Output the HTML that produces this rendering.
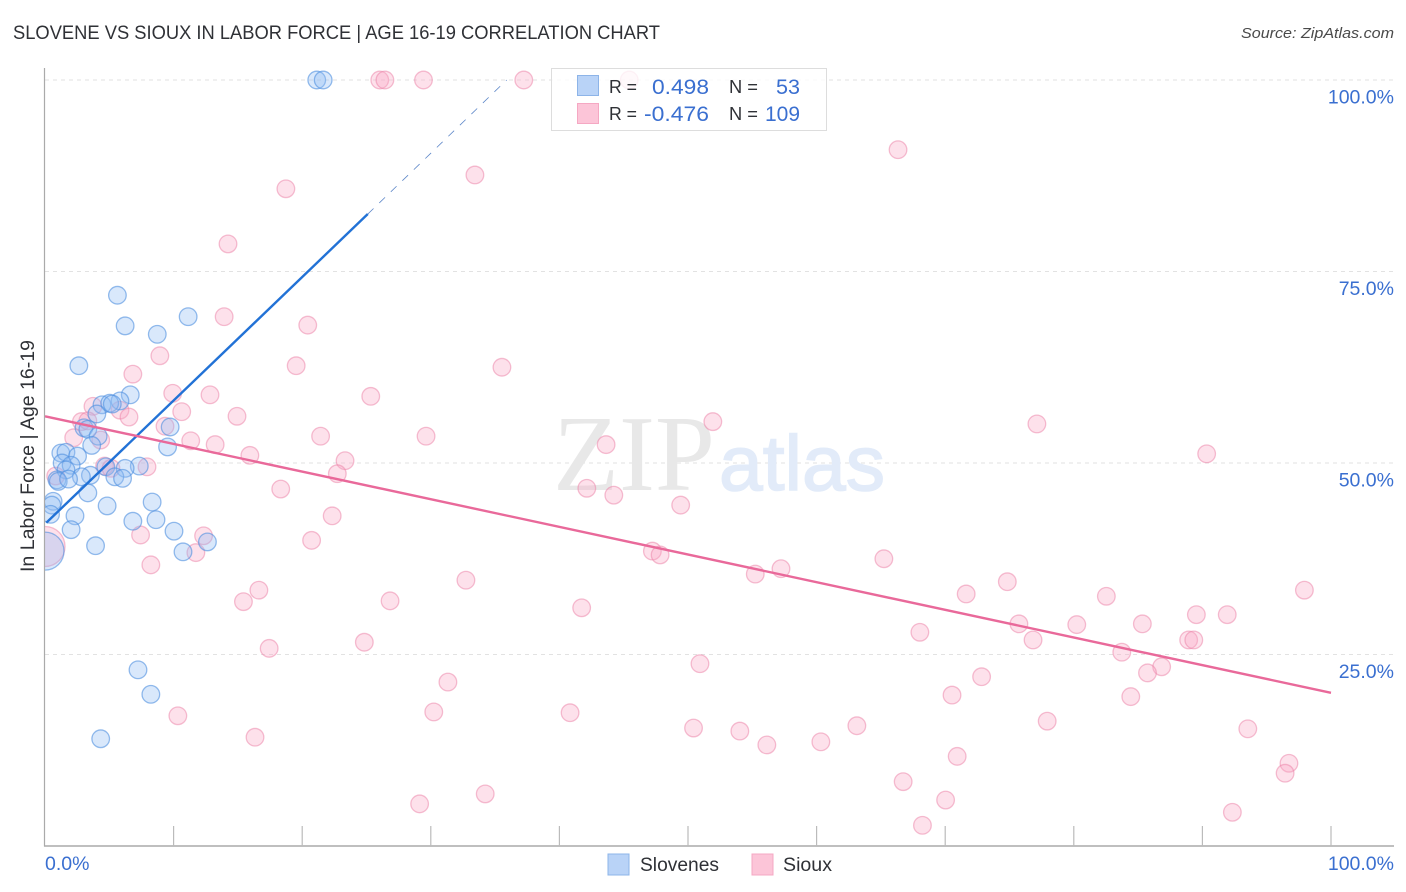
<!DOCTYPE html>
<html lang="en">
<head>
<meta charset="utf-8">
<title>Slovene vs Sioux in Labor Force | Age 16-19 Correlation Chart</title>
<style>
html,body{margin:0;padding:0;background:#fff;}
svg{display:block;font-family:"Liberation Sans",sans-serif;}
</style>
</head>
<body>
<svg id="chart" width="1406" height="892" viewBox="0 0 1406 892" xmlns="http://www.w3.org/2000/svg">
  <defs>
    <clipPath id="plot-clip"><rect x="45" y="60" width="1360" height="800"/></clipPath>
  </defs>
  <rect width="1406" height="892" fill="#ffffff"/>
  <text x="13" y="39" font-size="19" fill="#2f3136" textLength="647" lengthAdjust="spacingAndGlyphs">SLOVENE VS SIOUX IN LABOR FORCE | AGE 16-19 CORRELATION CHART</text>
  <text x="1241" y="38" font-size="15" font-style="italic" fill="#4a4a4a" textLength="153" lengthAdjust="spacingAndGlyphs">Source: ZipAtlas.com</text>
  <g id="grid"></g>
  <g>
    <text x="553" y="490" font-family="'Liberation Serif',serif" font-size="108" fill="#e8e8e8" textLength="162" lengthAdjust="spacingAndGlyphs">ZIP</text>
    <text x="719" y="490" font-family="'Liberation Sans',sans-serif" font-size="78" fill="#e2ebf9" stroke="#e2ebf9" stroke-width="1.5" textLength="166" lengthAdjust="spacingAndGlyphs">atlas</text>
  </g>
  <g id="series-sioux" clip-path="url(#plot-clip)"></g>
  <g id="series-slovenes" clip-path="url(#plot-clip)"></g>
  <g id="trends"></g>
  <g id="axes"></g>
  <text transform="translate(34,456) rotate(-90)" font-size="19" fill="#2f3136" text-anchor="middle" textLength="232" lengthAdjust="spacingAndGlyphs">In Labor Force | Age 16-19</text>
  <g>
    <rect x="551.5" y="68.5" width="275" height="62" fill="#ffffff" fill-opacity="0.8" stroke="#dddddd" stroke-width="1"/>
    <rect x="577.5" y="75.5" width="21" height="20" fill="#b9d3f7" stroke="#8db4e8" stroke-width="1"/>
    <rect x="577.5" y="103.5" width="21" height="20" fill="#fcc5d8" stroke="#f5a8c3" stroke-width="1"/>
    <text x="609" y="93" font-size="18" fill="#2f3136" textLength="28" lengthAdjust="spacingAndGlyphs">R =</text>
    <text x="652" y="94" font-size="21" fill="#3a6fd0" textLength="57" lengthAdjust="spacingAndGlyphs">0.498</text>
    <text x="729" y="93" font-size="18" fill="#2f3136" textLength="29" lengthAdjust="spacingAndGlyphs">N =</text>
    <text x="776" y="94" font-size="21" fill="#3a6fd0" textLength="24" lengthAdjust="spacingAndGlyphs">53</text>
    <text x="609" y="120" font-size="18" fill="#2f3136" textLength="28" lengthAdjust="spacingAndGlyphs">R =</text>
    <text x="644" y="121" font-size="21" fill="#3a6fd0" textLength="65" lengthAdjust="spacingAndGlyphs">-0.476</text>
    <text x="729" y="120" font-size="18" fill="#2f3136" textLength="29" lengthAdjust="spacingAndGlyphs">N =</text>
    <text x="765" y="121" font-size="21" fill="#3a6fd0" textLength="35" lengthAdjust="spacingAndGlyphs">109</text>
  </g>
  <g>
    <rect x="608" y="854" width="21" height="21" fill="#b9d3f7" stroke="#8db4e8" stroke-width="1"/>
    <text x="640" y="871" font-size="19" fill="#2f3136" textLength="79" lengthAdjust="spacingAndGlyphs">Slovenes</text>
    <rect x="752" y="854" width="21" height="21" fill="#fcc5d8" stroke="#f5a8c3" stroke-width="1"/>
    <text x="783" y="871" font-size="19" fill="#2f3136" textLength="49" lengthAdjust="spacingAndGlyphs">Sioux</text>
  </g>
</svg>
<script>
var xTickValues = [0, 10, 20, 30, 40, 50, 60, 70, 80, 90, 100];
var xTickLabels = ["0.0%", "100.0%"];
var xLabelValues = [0, 100];
var yTickValues = [100, 75, 50, 25];
var yTickLabels = ["100.0%", "75.0%", "50.0%", "25.0%"];

var slovenesX = [21.1,21.6,5.6,6.2,8.7,11.1,2.6,6.6,5.8,4.4,5.0,5.2,4.0,3.0,3.3,4.1,3.6,9.7,9.5,1.2,1.6,2.5,1.3,2.0,1.6,7.3,6.2,4.7,3.5,2.8,0.9,1.0,1.8,5.4,6.0,3.3,0.6,8.3,4.8,0.5,0.4,2.3,8.6,6.8,10.0,2.0,3.9,12.6,10.7,7.2,8.2,4.3];
var slovenesY = [100,100,71.9,67.9,66.8,69.1,62.7,58.9,58.1,57.6,57.8,57.7,56.4,54.6,54.4,53.5,52.3,54.7,52.1,51.3,51.4,50.9,50.0,49.7,49.1,49.6,49.3,49.5,48.4,48.2,47.8,47.6,47.9,48.2,48.0,46.1,45.0,44.9,44.4,44.5,43.3,43.1,42.6,42.4,41.1,41.3,39.2,39.7,38.4,23.0,19.8,14.0];
var slovenesBubbleX = [0];
var slovenesBubbleY = [38.5];

var siouxX = [26.0,26.4,29.4,37.2,45.4,66.3,33.4,18.7,14.2,13.9,20.4,8.9,19.5,35.5,6.8,9.9,12.8,25.3,3.7,5.8,10.6,14.9,6.5,2.8,3.3,9.3,51.9,77.1,2.2,4.3,11.3,21.4,29.6,13.2,43.6,15.9,90.3,7.9,23.3,4.6,5.1,22.7,0.8,42.1,18.3,44.2,49.4,22.3,12.3,7.4,20.7,47.2,47.8,8.2,11.7,65.2,57.2,55.2,32.7,74.8,16.6,71.6,97.9,15.4,26.8,82.5,41.7,89.5,91.9,85.3,75.7,80.2,68.0,76.8,88.9,89.3,24.8,17.4,83.7,50.9,86.8,85.7,72.8,31.3,70.5,84.4,10.3,30.2,40.8,77.9,63.1,50.4,54.0,93.5,16.3,60.3,56.1,70.9,96.7,96.4,66.7,34.2,70.0,29.1,68.2,92.3];
var siouxY = [100,100,100,100,100,90.9,87.6,85.8,78.6,69.1,68.0,64.0,62.7,62.5,61.6,59.1,58.9,58.7,57.4,56.9,56.7,56.1,56.0,55.4,55.5,54.8,55.4,55.1,53.3,53.0,52.9,53.5,53.5,52.4,52.4,51.0,51.2,49.5,50.3,49.6,49.3,48.6,48.3,46.7,46.6,45.8,44.5,43.1,40.5,40.6,39.9,38.5,38.0,36.7,38.3,37.5,36.2,35.5,34.7,34.5,33.4,32.9,33.4,31.9,32.0,32.6,31.1,30.2,30.2,29.0,29.0,28.9,27.9,26.9,26.9,26.9,26.6,25.8,25.3,23.8,23.4,22.6,22.1,21.4,19.7,19.5,17.0,17.5,17.4,16.3,15.7,15.4,15.0,15.3,14.2,13.6,13.2,11.7,10.8,9.5,8.4,6.8,6.0,5.5,2.7,4.4];
var siouxBubbleX = [0];
var siouxBubbleY = [39.1];

var slovenesTrendX = [0.1, 25.1];
var slovenesTrendY = [42.2, 82.5];
var slovenesForecastX = [25.1, 35.9];
var slovenesForecastY = [82.5, 100];
var siouxTrendX = [0, 100];
var siouxTrendY = [56.1, 20.0];

var SVGNS = "http://www.w3.org/2000/svg";
function xScale(v) { return 45 + v * 12.86; }
function yScale(v) { return 846 - v * 7.66; }
function make(tag, parent, attrs) {
  var el = document.createElementNS(SVGNS, tag);
  for (var k in attrs) { el.setAttribute(k, attrs[k]); }
  parent.appendChild(el);
  return el;
}

var gridGroup = document.getElementById("grid");
var axesGroup = document.getElementById("axes");
var trendGroup = document.getElementById("trends");
var siouxGroup = document.getElementById("series-sioux");
var slovenesGroup = document.getElementById("series-slovenes");

yTickValues.forEach(function (v, i) {
  var g = make("line", gridGroup, {x1: 45, x2: 1393, y1: yScale(v), y2: yScale(v), stroke: "#e2e2e2", "stroke-width": 1, "stroke-dasharray": "4 4"});
  
  
  var t = make("text", axesGroup, {x: 1394, y: yScale(v) + 23.5, "font-size": 19.5, fill: "#3a6fd0", "text-anchor": "end"});
  
  
  t.textContent = yTickLabels[i];
});

var yAxisLine = make("line", axesGroup, {x1: 44.5, x2: 44.5, y1: 68, y2: 846.5, stroke: "#aaaaaa", "stroke-width": 1.2});


var xAxisLine = make("line", axesGroup, {x1: 44, x2: 1394, y1: 846, y2: 846, stroke: "#aaaaaa", "stroke-width": 1.5});



xTickValues.forEach(function (v) {
  if (v === 0) { return; }
  var tick = make("line", axesGroup, {x1: xScale(v), x2: xScale(v), y1: 826, y2: 846, stroke: "#bbbbbb", "stroke-width": 1.2});
  
  
});

xLabelValues.forEach(function (v, i) {
  var x = v === 100 ? 1394 : xScale(v);
  var t = make("text", axesGroup, {x: x, y: 870, "font-size": 19.5, fill: "#3a6fd0", "text-anchor": v === 100 ? "end" : "start"});
  
  
  t.textContent = xTickLabels[i];
});

siouxX.forEach(function (v, i) {
  var c = make("circle", siouxGroup, {cx: xScale(v) + 0.4, cy: yScale(siouxY[i]), r: 8.8, fill: "#f9a8c4", "fill-opacity": 0.34, stroke: "#ec7fa5", "stroke-opacity": 0.5, "stroke-width": 1.3});
  
  
});
siouxBubbleX.forEach(function (v, i) {
  var c = make("circle", siouxGroup, {cx: xScale(v), cy: yScale(siouxBubbleY[i]), r: 20, fill: "#f9a8c4", "fill-opacity": 0.34, stroke: "#ec7fa5", "stroke-opacity": 0.5, "stroke-width": 1.3});
  
  
});
slovenesX.forEach(function (v, i) {
  var c = make("circle", slovenesGroup, {cx: xScale(v) + 0.4, cy: yScale(slovenesY[i]), r: 8.8, fill: "#8fbcf3", "fill-opacity": 0.34, stroke: "#4f8fe0", "stroke-opacity": 0.6, "stroke-width": 1.3});
  
  
});
slovenesBubbleX.forEach(function (v, i) {
  var c = make("circle", slovenesGroup, {cx: xScale(v), cy: yScale(slovenesBubbleY[i]), r: 19, fill: "#8fbcf3", "fill-opacity": 0.34, stroke: "#4f8fe0", "stroke-opacity": 0.6, "stroke-width": 1.3});
  
  
});

var forecast = make("line", trendGroup, {x1: xScale(slovenesForecastX[0]), y1: yScale(slovenesForecastY[0]), x2: xScale(slovenesForecastX[1]), y2: yScale(slovenesForecastY[1]), stroke: "#5c86c8", "stroke-width": 0.8, "stroke-dasharray": "8 8"});


var slovenesTrend = make("line", trendGroup, {x1: xScale(slovenesTrendX[0]), y1: yScale(slovenesTrendY[0]), x2: xScale(slovenesTrendX[1]), y2: yScale(slovenesTrendY[1]), stroke: "#2272d6", "stroke-width": 2.4});


var siouxTrend = make("line", trendGroup, {x1: xScale(siouxTrendX[0]), y1: yScale(siouxTrendY[0]), x2: xScale(siouxTrendX[1]), y2: yScale(siouxTrendY[1]), stroke: "#e9699a", "stroke-width": 2.4});


</script>
</body>
</html>
